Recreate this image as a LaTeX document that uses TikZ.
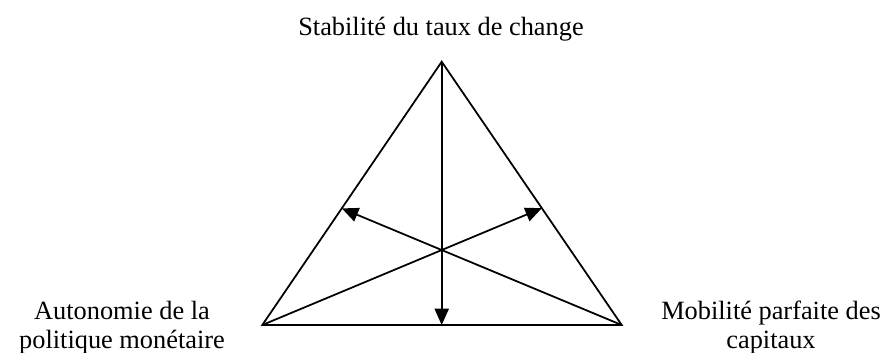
\documentclass[tikz,border=0pt]{standalone}
\usepackage{fontspec}
\setmainfont{Liberation Serif}
\usetikzlibrary{arrows.meta,positioning}

\begin{document}
\begin{tikzpicture}[x=0.016cm,y=-0.016cm,every node/.style={font=\fontsize{12}{13.2}\selectfont,align=center,inner sep=0pt,anchor=base},side/.style={draw=black,line width=0.8pt},arr/.style={-{Triangle[length=7.5pt,width=6.5pt]},line width=0.8pt}]
\useasboundingbox (0,0) rectangle (882,352);
\coordinate (top) at (441.7,61.7);
\coordinate (left) at (262.3,325);
\coordinate (right) at (621.7,325);
\coordinate (ctr) at (441.7,250);
\node (stab) at (441,35) {Stabilité du taux de change};
\node (auto) at (122,348) {Autonomie de la\\politique monétaire};
\node (mob) at (771,348) {Mobilité parfaite des\\capitaux};
\draw[side] (top) -- (left) -- (right) -- cycle;
\draw[arr] (top) -- (top |- left);
\draw[arr] (left) -- (intersection of left--ctr and top--right);
\draw[arr] (right) -- (intersection of right--ctr and top--left);
\end{tikzpicture}
\end{document}
